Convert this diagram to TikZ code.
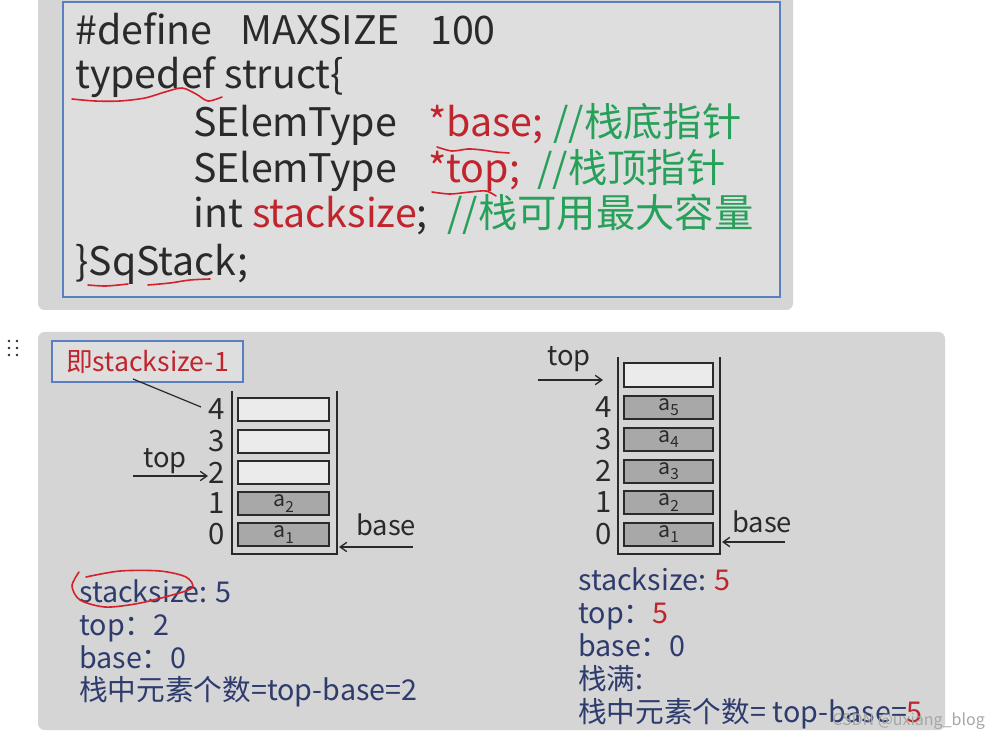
\documentclass[tikz,border=0pt]{standalone}
\usepackage{fontspec}
\setmainfont{Noto Sans CJK SC}
\usetikzlibrary{arrows.meta}
\definecolor{panelgray}{HTML}{D5D5D5}
\definecolor{innerbox}{HTML}{DEDEDE}
\definecolor{blueline}{HTML}{5A7FC0}
\definecolor{codegray}{HTML}{2A2A2A}
\definecolor{codered}{HTML}{C0242C}
\definecolor{codegreen}{HTML}{27A05A}
\definecolor{navy}{HTML}{2E3B6D}
\definecolor{cellfull}{HTML}{A8A8A8}
\definecolor{cellempty}{HTML}{EBEBEB}
\definecolor{scribble}{HTML}{D8202A}
\newcommand\asub[1]{a\raisebox{-0.45ex}{\fontsize{11.5}{12}\selectfont #1}}
\begin{document}
\begin{tikzpicture}[x=0.75pt,y=-0.75pt,
  code/.style={anchor=base west,inner sep=0,text=codegray,font=\fontsize{29.5}{36}\selectfont},
  info/.style={anchor=base west,inner sep=0,text=navy,font=\fontsize{21.5}{26}\selectfont},
  digit/.style={inner sep=0,text=codegray,font=\fontsize{22}{24}\selectfont},
  lbl/.style={anchor=base west,inner sep=0,text=codegray,font=\fontsize{20.5}{24}\selectfont},
  cellL/.style={draw=codegray,line width=1.5pt,minimum width=68.25pt,minimum height=17.25pt,inner sep=0,text=codegray,font=\fontsize{16}{18}\selectfont},
  cellR/.style={cellL,minimum width=66.75pt},
  full/.style={fill=cellfull},
  empty/.style={fill=cellempty},
  wall/.style={draw=codegray,line width=1.3pt},
  ptr/.style={draw=codegray,line width=1pt,-{Straight Barb[length=5pt,width=7pt]}},
  lead/.style={draw=codegray,line width=0.9pt},
  redmark/.style={draw=scribble,line width=1.2pt,line cap=round,line join=round}
]
\useasboundingbox (0,0) rectangle (998,737);
\fill[white] (0,0) rectangle (998,737);
% top panel
\fill[panelgray,rounded corners=5pt] (38,-10) rectangle (793,310);
\draw[blueline,line width=1.5pt,fill=innerbox] (63,2) rectangle (780,297);
% code
\node[code] (l1a) at (75,45) {\#define};
\node[code] (l1b) at (240,45) {MAXSIZE};
\node[code] (l1c) at (430,45) {100};
\node[code] (l2) at (75,89) {typedef struct\{};
\node[code] (l3a) at (193,137) {SElemType};
\node[code,text=codered] (l3b) at (428,137) {*base;};
\node[code,text=codegreen] (l3c) at (553,137) {//栈底指针};
\node[code] (l4a) at (193,183) {SElemType};
\node[code,text=codered] (l4b) at (428,183) {*top;};
\node[code,text=codegreen] (l4c) at (537,183) {//栈顶指针};
\node[code] (l5a) at (193,228) {int};
\node[code] (l5b) at (252,228) {\textcolor{codered}{stacksize};};
\node[code,text=codegreen] (l5c) at (447,228) {//栈可用最大容量};
\node[code] (l6) at (75,276) {\}SqStack;};
% red scribbles on code
\draw[redmark] plot[smooth] coordinates {(72,99)(95,101)(120,101)(145,98)(165,92)(182,88)(196,94)(208,101)(222,97)};
\draw[redmark] plot[smooth] coordinates {(437,147)(452,151)(468,149)(482,150)(496,152)(509,153)};
\draw[redmark] plot[smooth] coordinates {(432,192)(450,194)(470,192)(486,191)(496,196)};
\draw[redmark] plot[smooth] coordinates {(88,285)(106,286)(128,284)};
\draw[redmark] plot[smooth] coordinates {(148,285)(170,283)(190,280)(210,279)};
% grip dots
\foreach \gx/\gy [count=\gi] in {9/341,17/341,9/348,17/348,9/355,17/355}
  \fill[codegray] (\gx,\gy) circle (1.3);
% bottom panel
\fill[panelgray,rounded corners=5pt] (38,332) rectangle (945,730);
% left diagram
\node[draw=blueline,line width=1.2pt,fill=innerbox,minimum width=143.25pt,minimum height=30.75pt,inner sep=0,text=codered,font=\fontsize{20}{24}\selectfont] (box) at (147.5,361.5) {即stacksize-1};
\draw[wall] (232,391) -- (232,554) -- (337,554) -- (337,391);
\node[cellL,empty] (L4) at (283.5,409.5) {};
\node[cellL,empty] (L3) at (283.5,441) {};
\node[cellL,empty] (L2) at (283.5,472.5) {};
\node[cellL,full] (L1) at (283.5,503.5) {\asub{2}};
\node[cellL,full] (L0) at (283.5,534.5) {\asub{1}};
\node[digit] (n4) at (217,409.5) {4};
\node[digit] (n3) at (217,441) {3};
\node[digit] (n2) at (217,472.5) {2};
\node[digit] (n1) at (217,503.5) {1};
\node[digit] (n0) at (217,534.5) {0};
\coordinate (leadA) at (133,379);
\coordinate (leadB) at (201,407);
\draw[lead] (leadA) -- (leadB);
\node[lbl] (topL) at (143,467) {top};
\coordinate (topLs) at (133,476);
\coordinate (topLe) at (208,476);
\draw[ptr] (topLs) -- (topLe);
\node[lbl] (baseL) at (356,535) {base};
\coordinate (baseLs) at (413,547);
\coordinate (baseLe) at (339,547);
\draw[ptr] (baseLs) -- (baseLe);
\node[info] (t1) at (79,602) {stacksize: 5};
\node[info] (t2) at (79,635) {top：2};
\node[info] (t3) at (79,668) {base：0};
\node[info] (t4) at (79,700) {栈中元素个数=top-base=2};
\draw[redmark] plot[smooth] coordinates {(79,572)(72,586)(80,600)(105,607)(135,604)(165,597)(192,588)(186,577)(160,571)(120,571)(86,577)};
% right diagram
\draw[wall] (618,357) -- (618,554) -- (720,554) -- (720,357);
\node[cellR,empty] (R5) at (668.5,375) {};
\node[cellR,full] (R4) at (668.5,407.5) {\asub{5}};
\node[cellR,full] (R3) at (668.5,439) {\asub{4}};
\node[cellR,full] (R2) at (668.5,471) {\asub{3}};
\node[cellR,full] (R1) at (668.5,502.5) {\asub{2}};
\node[cellR,full] (R0) at (668.5,534) {\asub{1}};
\node[digit] (m4) at (604,407.5) {4};
\node[digit] (m3) at (604,439) {3};
\node[digit] (m2) at (604,471) {2};
\node[digit] (m1) at (604,502.5) {1};
\node[digit] (m0) at (604,534) {0};
\node[lbl] (topR) at (547,365) {top};
\coordinate (topRs) at (538,380);
\coordinate (topRe) at (603,380);
\draw[ptr] (topRs) -- (topRe);
\node[lbl] (baseR) at (732,532) {base};
\coordinate (baseRs) at (785,542);
\coordinate (baseRe) at (722,542);
\draw[ptr] (baseRs) -- (baseRe);
\node[info] (s1) at (578,590) {stacksize: \textcolor{codered}{5}};
\node[info] (s2) at (578,623) {top：\textcolor{codered}{5}};
\node[info] (s3) at (578,656) {base：0};
\node[info] (s4) at (578,689) {栈满:};
\node[info] (s5) at (578,722) {栈中元素个数= top-base=\textcolor{codered}{5}};
\node[anchor=base west,inner sep=0,text=gray!70,font=\fontsize{12}{14}\selectfont] (wm) at (832,725) {CSDN @uxiang\_blog};
\end{tikzpicture}
\end{document}
